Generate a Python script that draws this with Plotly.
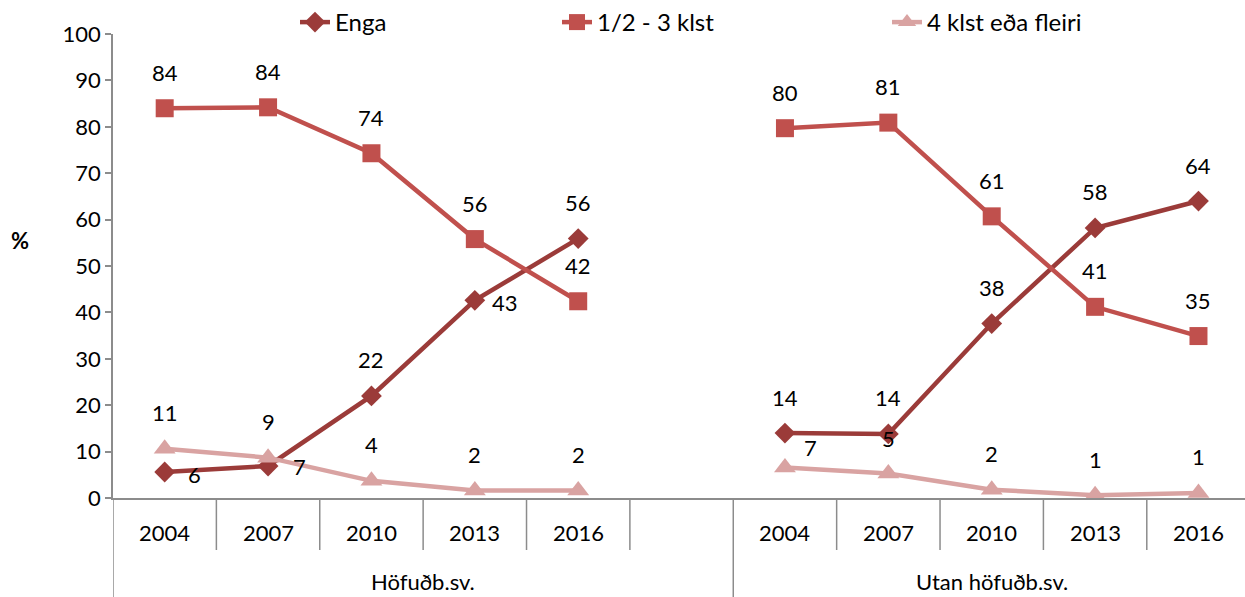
import plotly.graph_objects as go

# ---- data ----
groups = ["Höfuðb.sv.", "Utan höfuðb.sv."]
years = ["2004", "2007", "2010", "2013", "2016"]
series_names = ["Enga", "1/2 - 3 klst", "4 klst eða fleiri"]

enga_hofud = [5.6, 6.9, 22.0, 42.6, 55.9]
enga_utan = [14.0, 13.8, 37.6, 58.2, 64.0]
mid_hofud = [84.0, 84.2, 74.3, 55.8, 42.4]
mid_utan = [79.7, 80.9, 60.7, 41.2, 34.9]
many_hofud = [10.6, 8.7, 3.7, 1.6, 1.6]
many_utan = [6.6, 5.3, 1.8, 0.6, 1.1]

y_ticks = list(range(0, 101, 10))

# ---- layout of categories: group 1 years, one empty slot, group 2 years ----
n1 = len(years)
x_g1 = list(range(n1))
x_g2 = list(range(n1 + 1, 2 * n1 + 1))
x_all = x_g1 + [n1] + x_g2


def join(a, b):
    return a + [None] + b


series = [
    (series_names[0], join(enga_hofud, enga_utan), "#9B3B39", "diamond", 16),
    (series_names[1], join(mid_hofud, mid_utan), "#C0504D", "square", 18),
    (series_names[2], join(many_hofud, many_utan), "#D9A3A2", "triangle-up", 19),
]

FONT = "Lato, 'Open Sans', sans-serif"
FS_NUM = 22
FS_TXT = 24
AX = "#8C8C8C"

W, H = 1245, 597
L, R, T, B = 113, 0, 34, 99
pw, ph = W - L - R, H - T - B

fig = go.Figure()
legend_ids = ["legend", "legend2", "legend3"]
for (name, ys, col, sym, ms), lid in zip(series, legend_ids):
    fig.add_trace(go.Scatter(
        x=x_all, y=ys, name=name, mode="lines+markers",
        line=dict(color=col, width=4.5),
        marker=dict(symbol=sym, size=ms, color=col),
        connectgaps=False, cliponaxis=False, legend=lid,
        hoverinfo="skip",
    ))

# ---- data labels (pixel offsets from their points) ----
default_off = (0, 36)
offsets = {
    (0, 0): (30, -2), (0, 1): (31, -1), (0, 3): (30, -2),
    (2, 6): (26, 20), (2, 7): (0, 35),
}
for si, (name, ys, col, sym, ms) in enumerate(series):
    for xi, v in zip(x_all, ys):
        if v is None:
            continue
        dx, dy = offsets.get((si, xi), default_off)
        fig.add_annotation(
            x=xi, y=v, text=str(int(round(v))), showarrow=False,
            xshift=dx, yshift=dy, font=dict(family=FONT, size=FS_NUM, color="black"),
        )

# ---- category axis labels and dividers ----
for xi, yr in zip(x_g1 + x_g2, years + years):
    fig.add_annotation(x=xi, y=(H - B - 532) / ph, yref="paper", text=yr, showarrow=False,
                       font=dict(family=FONT, size=FS_NUM, color="black"), yanchor="middle")

group_centers = [(-0.5 + (n1 + 0.5)) / 2, ((n1 + 0.5) + (2 * n1 + 0.5)) / 2]
for gc, g in zip(group_centers, groups):
    fig.add_annotation(x=gc, y=(H - B - 581) / ph, yref="paper", text=g, showarrow=False,
                       font=dict(family=FONT, size=FS_NUM, color="black"), yanchor="middle")

for k in range(2 * n1 + 1):
    xd = k - 0.5
    long_line = xd in (-0.5, n1 + 0.5)
    fig.add_shape(type="line", x0=xd, x1=xd, y0=0,
                  y1=(H - B - 600) / ph if long_line else (H - B - 550) / ph,
                  xref="x", yref="paper", line=dict(color=AX, width=1.5), layer="below")

# "%" label
fig.add_annotation(x=(20 - L) / pw, xref="paper", y=(H - B - 240) / ph, yref="paper",
                   text="<b>%</b>", showarrow=False, xanchor="center", yanchor="middle",
                   font=dict(family=FONT, size=FS_NUM, color="black"))


def lx(px):
    return (px - L) / pw


leg_common = dict(orientation="h", yanchor="middle", y=(H - B - 22) / ph, xanchor="left",
                  font=dict(family=FONT, size=FS_TXT, color="black"), bgcolor="rgba(0,0,0,0)",
                  itemwidth=30)

fig.update_layout(
    width=W, height=H,
    margin=dict(l=L, r=R, t=T, b=B),
    plot_bgcolor="white", paper_bgcolor="white",
    font=dict(family=FONT, size=FS_NUM, color="black"),
    showlegend=True,
    legend=dict(x=lx(295), **leg_common),
    legend2=dict(x=lx(557), **leg_common),
    legend3=dict(x=lx(887), **leg_common),
    xaxis=dict(range=[-0.5, 2 * n1 + 0.45], showgrid=False, zeroline=False,
               showline=True, linecolor=AX, linewidth=1.5, showticklabels=False,
               ticks="", fixedrange=True),
    yaxis=dict(range=[0, 100], tickvals=y_ticks, showgrid=False, zeroline=False,
               showline=True, linecolor=AX, linewidth=1.5, ticks="outside",
               ticklen=6, tickwidth=1.5, tickcolor=AX,
               tickfont=dict(family=FONT, size=FS_NUM, color="black"), fixedrange=True),
)

fig.write_html(
    "out.html",
    config={"displayModeBar": False},
    post_script="document.body.style.margin='0';document.body.style.overflow='hidden';",
)
